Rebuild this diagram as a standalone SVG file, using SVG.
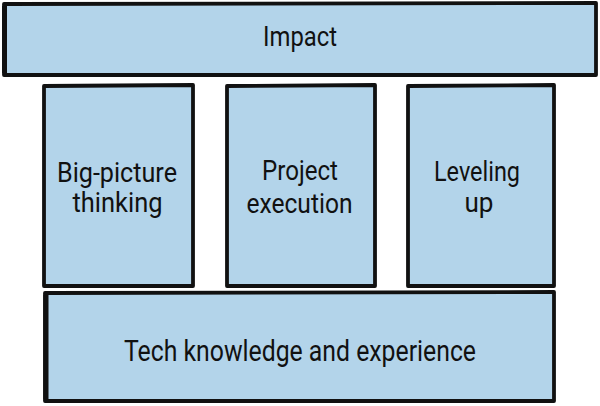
<svg xmlns="http://www.w3.org/2000/svg" width="600" height="406" viewBox="0 0 600 406">
<style>
.box{fill:#b3d4ea;stroke:#111;stroke-width:3.8;stroke-linejoin:round}
.t{font-family:Roboto,"Noto Sans",sans-serif;font-size:27.5px;fill:#111;text-anchor:middle}
</style>
<rect width="600" height="406" fill="#fff"/>
<g id="impact">
<path class="box" d="M4,4 L596,3 L596,75 L4,75 Z"/>
<path d="M4.5,6 L4.5,73" stroke="#111" stroke-width="5" fill="none"/>
<text class="t" x="300" y="46" style="font-size:27px" textLength="74" lengthAdjust="spacingAndGlyphs">Impact</text>
</g>
<g id="big-picture">
<path class="box" d="M44,86 L193,85 L193,286 L44,286 Z"/>
<text class="t" x="117" y="182" textLength="120" lengthAdjust="spacingAndGlyphs">Big-picture</text>
<text class="t" x="117.5" y="212" textLength="90" lengthAdjust="spacingAndGlyphs">thinking</text>
</g>
<g id="project-execution">
<path class="box" d="M227,86 L375,85 L375,286 L227,286 Z"/>
<text class="t" x="300" y="180" textLength="76" lengthAdjust="spacingAndGlyphs">Project</text>
<text class="t" x="299.5" y="213" textLength="106" lengthAdjust="spacingAndGlyphs">execution</text>
</g>
<g id="leveling-up">
<path class="box" d="M408,86 L554,85 L554,286 L408,286 Z"/>
<text class="t" x="477" y="181" textLength="86" lengthAdjust="spacingAndGlyphs">Leveling</text>
<text class="t" x="479" y="212" textLength="29" lengthAdjust="spacingAndGlyphs">up</text>
</g>
<g id="tech-knowledge">
<path class="box" d="M45,293 L554,292 L554,401 L45,401 Z"/>
<path d="M46,295 L46,399" stroke="#111" stroke-width="5" fill="none"/>
<text class="t" x="300" y="361" style="font-size:30px" textLength="352" lengthAdjust="spacingAndGlyphs">Tech knowledge and experience</text>
</g>
<g id="connectors"></g>
</svg>
